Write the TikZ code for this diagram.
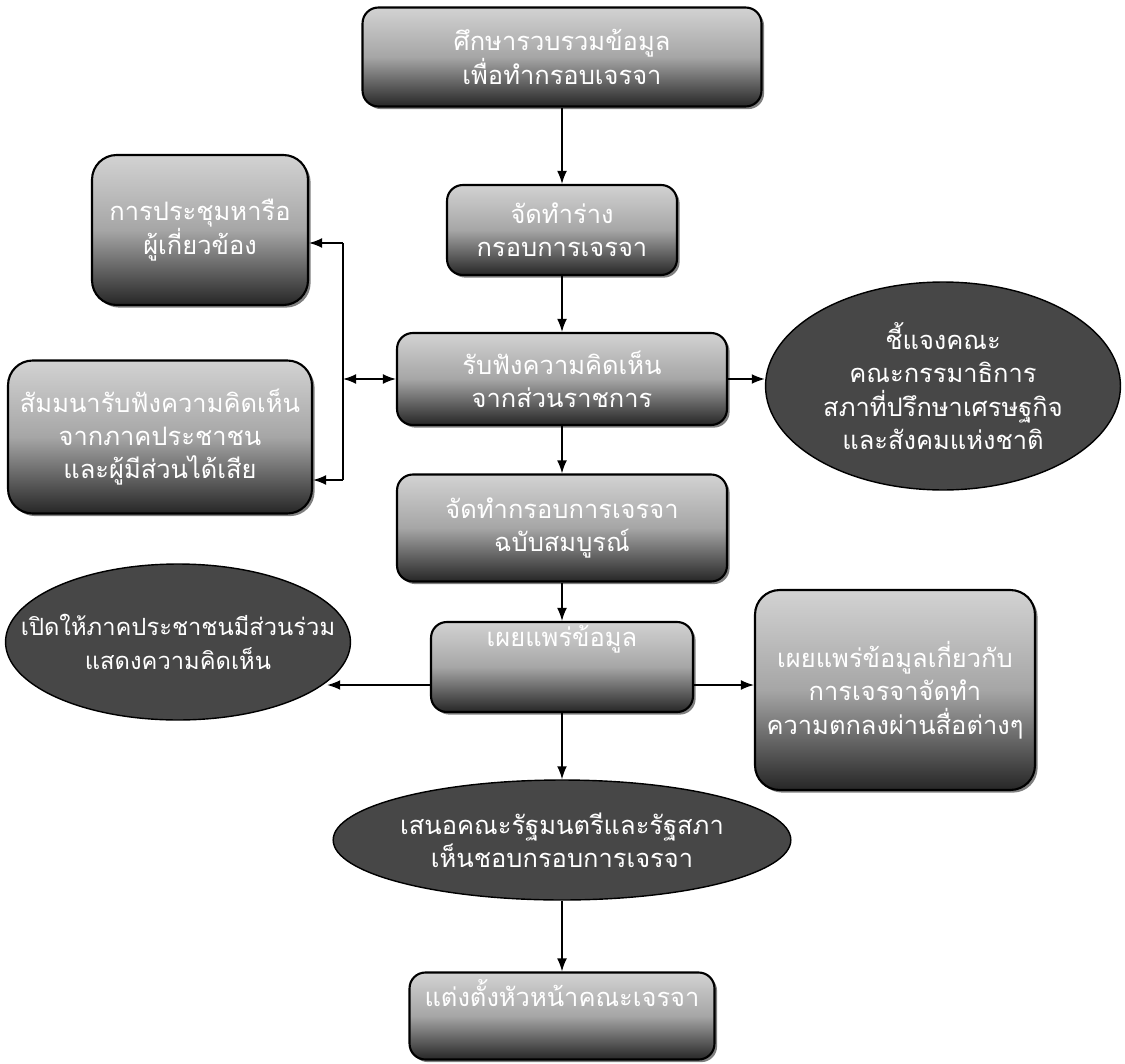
\documentclass[tikz,border=0pt]{standalone}
\usepackage{fontspec}
\newfontfamily\thaifont[Script=Thai]{Loma}
\usetikzlibrary{positioning,arrows.meta,shapes.geometric,shadows}
\tikzset{
  flowarrow/.style={-{Latex[length=2.6mm]}, thick},
  stepbox/.style={draw, rounded corners=9pt, very thick, top color=gray!35, bottom color=black!85, middle color=gray!70, text=white, align=center, inner sep=2pt, drop shadow={shadow xshift=1.5pt, shadow yshift=-1.5pt, fill=black}},
  sidebox/.style={stepbox, rounded corners=14pt},
  roundnote/.style={draw, ellipse, thick, fill=black!72, text=white, align=center, inner sep=0pt},
  busline/.style={thick}
}

\begin{document}
\begin{tikzpicture}[x=0.02cm, y=-0.02cm, >=Latex, every node/.style={font=\thaifont\fontsize{14.5}{19}\selectfont}]
  \useasboundingbox (0,0) rectangle (1125,1064);
  % main column
  \node[stepbox, minimum width=7.98cm, minimum height=1.98cm] (study) at (562,57) {ศึกษารวบรวมข้อมูล\\ เพื่อทำกรอบเจรจา};
  \node[stepbox, minimum width=4.6cm, minimum height=1.8cm] (draft) at (562,230) {จัดทำร่าง\\ กรอบการเจรจา};
  \node[stepbox, minimum width=6.6cm, minimum height=1.84cm] (hear) at (562,379) {รับฟังความคิดเห็น\\ จากส่วนราชการ};
  \node[stepbox, minimum width=6.6cm, minimum height=2.14cm] (frame) at (562,528) {จัดทำกรอบการเจรจา\\ ฉบับสมบูรณ์};
  \node[stepbox, minimum width=5.24cm, minimum height=1.8cm] (publish) at (562,667) {เผยแพร่ข้อมูล\\[1.1em]};
  \node[roundnote, minimum width=8cm, minimum height=2.4cm] (propose) at (562,840) {เสนอคณะรัฐมนตรีและรัฐสภา\\ เห็นชอบกรอบการเจรจา};
  \node[stepbox, minimum width=6.1cm, minimum height=1.74cm] (appoint) at (562,1016) {แต่งตั้งหัวหน้าคณะเจรจา\\[0.5em]};
  % side nodes
  \node[sidebox, minimum width=4.32cm, minimum height=3cm] (meet) at (200,230) {การประชุมหารือ\\ ผู้เกี่ยวข้อง};
  \node[sidebox, minimum width=6.08cm, minimum height=3.06cm] (seminar) at (160,437) {สัมมนารับฟังความคิดเห็น\\ จากภาคประชาชน\\ และผู้มีส่วนได้เสีย};
  \node[roundnote, minimum width=7.1cm, minimum height=4.16cm] (explain) at (943,386) {ชี้แจงคณะ\\ คณะกรรมาธิการ\\ สภาที่ปรึกษาเศรษฐกิจ\\ และสังคมแห่งชาติ};
  \node[roundnote, inner xsep=-1.2cm, minimum width=6.9cm, minimum height=3.12cm, font=\thaifont\fontsize{13.5}{19}\selectfont] (open) at (178,642) {เปิดให้ภาคประชาชนมีส่วนร่วม\\ แสดงความคิดเห็น};
  \node[sidebox, minimum width=5.6cm, minimum height=4cm] (pubinfo) at (895,690) {เผยแพร่ข้อมูลเกี่ยวกับ\\ การเจรจาจัดทำ\\ ความตกลงผ่านสื่อต่างๆ};
  % connectors
  \coordinate (busN) at (343,243);
  \coordinate (busS) at (343,480);
  \coordinate (pubrow) at (0,685);
  \draw[flowarrow] (study) -- (draft);
  \draw[flowarrow] (draft) -- (hear);
  \draw[flowarrow] (hear) -- (frame);
  \draw[flowarrow] (frame) -- (publish);
  \draw[flowarrow] (publish) -- (propose);
  \draw[flowarrow] (propose) -- (appoint);
  \draw[flowarrow] (hear.east) -- (hear.east -| explain.west);
  \draw[busline] (busN) -- (busS);
  \draw[flowarrow, {Latex[length=2.6mm]}-{Latex[length=2.6mm]}] (hear.west) -- (hear.west -| busN);
  \draw[flowarrow] (busN) -- (meet.east |- busN);
  \draw[flowarrow] (busS) -- (seminar.east |- busS);
  \draw[flowarrow] (publish.west |- pubrow) -- (open.-15 |- pubrow);
  \draw[flowarrow] (publish.east |- pubrow) -- (pubinfo.west |- pubrow);
\end{tikzpicture}
\end{document}
